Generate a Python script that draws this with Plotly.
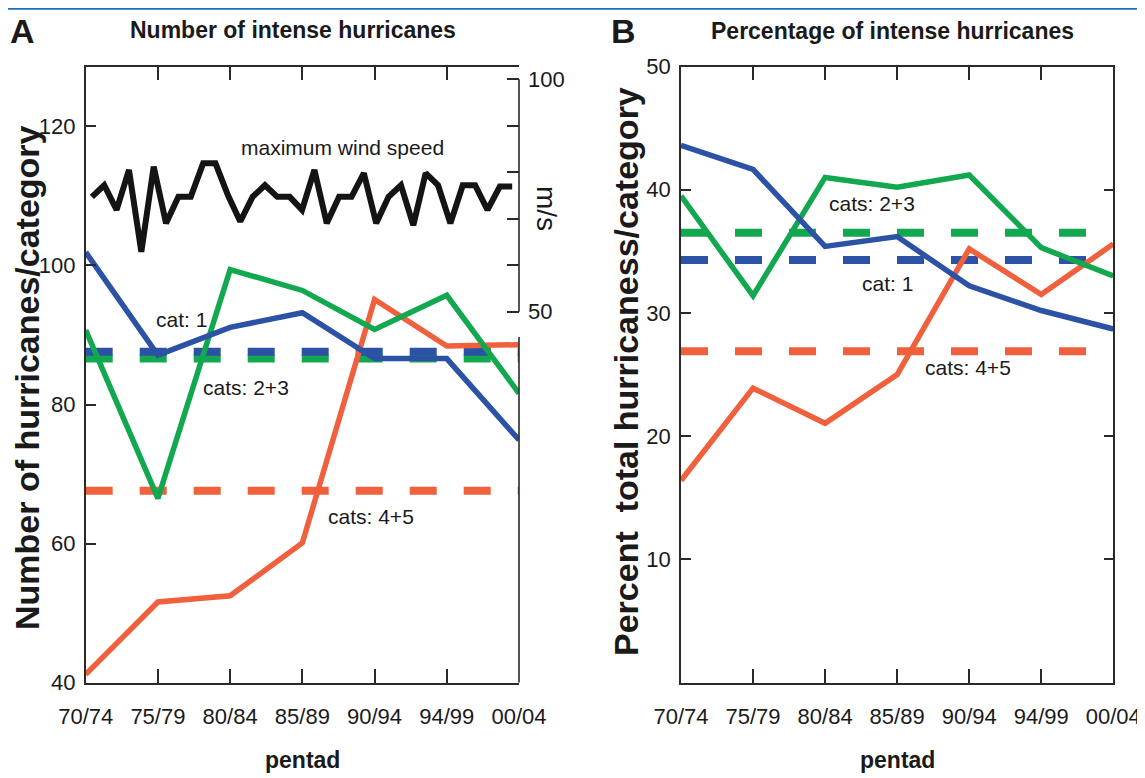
import plotly.graph_objects as go

# ---------------- data ----------------
pentads = ["70/74", "75/79", "80/84", "85/89", "90/94", "94/99", "00/04"]

# Panel A: number of hurricanes per category
num_cat1 = [101.9, 87.1, 91.1, 93.2, 86.6, 86.6, 74.9]
num_cat23 = [90.7, 66.5, 99.4, 96.4, 90.8, 95.7, 81.6]
num_cat45 = [41.2, 51.6, 52.5, 60.1, 95.1, 88.4, 88.6]
num_mean_cat1 = 87.6
num_mean_cat23 = 86.6
num_mean_cat45 = 67.6

# maximum wind speed (m/s), annual 1970-2004
years = [1970, 1971, 1972, 1973, 1974, 1975, 1976, 1977, 1978, 1979,
         1980, 1981, 1982, 1983, 1984, 1985, 1986, 1987, 1988, 1989,
         1990, 1991, 1992, 1993, 1994, 1995, 1996, 1997, 1998, 1999,
         2000, 2001, 2002, 2003, 2004]
max_wind = [74.7, 77.2, 71.9, 80.5, 62.9, 81.2, 69.0, 74.7, 74.7, 81.9,
            81.9, 75.1, 69.4, 74.7, 77.2, 74.7, 74.7, 71.9, 80.5, 69.0,
            74.7, 74.7, 79.8, 69.0, 74.7, 77.2, 68.6, 79.8, 77.2, 69.0,
            77.2, 77.2, 71.9, 76.9, 76.9]

# Panel B: percentage of total hurricanes per category
pct_cat1 = [43.6, 41.65, 35.4, 36.2, 32.2, 30.2, 28.7]
pct_cat23 = [39.5, 31.4, 41.0, 40.2, 41.2, 35.3, 33.0]
pct_cat45 = [16.4, 23.9, 21.05, 25.0, 35.2, 31.5, 35.6]
pct_mean_cat1 = 34.3
pct_mean_cat23 = 36.5
pct_mean_cat45 = 26.9

left_ticks = [40, 60, 80, 100, 120]
ms_ticks = [50, 60, 70, 80, 90, 100]
ms_ticktext = ["50", "", "", "", "", "100"]
pct_ticks = [10, 20, 30, 40, 50]

# ---------------- style ----------------
BLUE = "#2c52a6"
GREEN = "#12a84f"
RED = "#f0603c"
BLACK = "#141414"
AX = "#2a2a2a"
FONT = "Liberation Sans, Arial, Helvetica, sans-serif"
DASH = "27px,27px"
# the page body adds an 8px margin: the figure fills the rest of the window
OX = 8
OY = 8
W = 1145 - OX
H = 778 - OY


def px(x):
    return (x - OX) / W


def py(y):
    return 1 - (y - OY) / H


XA = [px(85.7), px(519)]
XB = [px(681), px(1113.3)]
YD = [py(682.7), py(66.5)]

fig = go.Figure()


def dashed(xaxis, yaxis, val, color):
    fig.add_trace(go.Scatter(x=[pentads[0], pentads[-1]], y=[val, val], mode="lines",
                             line=dict(color=color, width=8, dash=DASH),
                             xaxis=xaxis, yaxis=yaxis, hoverinfo="skip", showlegend=False))


def solid(xaxis, yaxis, vals, color):
    fig.add_trace(go.Scatter(x=pentads, y=vals, mode="lines",
                             line=dict(color=color, width=5.5),
                             xaxis=xaxis, yaxis=yaxis, showlegend=False))


# Panel A
dashed("x", "y", num_mean_cat45, RED)
dashed("x", "y", num_mean_cat23, GREEN)
dashed("x", "y", num_mean_cat1, BLUE)
solid("x", "y", num_cat45, RED)
solid("x", "y", num_cat23, GREEN)
solid("x", "y", num_cat1, BLUE)
fig.add_trace(go.Scatter(x=years, y=max_wind, mode="lines",
                         line=dict(color=BLACK, width=6),
                         xaxis="x2", yaxis="y2", showlegend=False))

# Panel B
dashed("x3", "y3", pct_mean_cat45, RED)
dashed("x3", "y3", pct_mean_cat23, GREEN)
dashed("x3", "y3", pct_mean_cat1, BLUE)
solid("x3", "y3", pct_cat45, RED)
solid("x3", "y3", pct_cat23, GREEN)
solid("x3", "y3", pct_cat1, BLUE)

tickfont = dict(family=FONT, size=22, color="#1a1a1a")
common_x = dict(type="category", categoryorder="array", categoryarray=pentads,
                range=[0, 6], showline=True, linecolor=AX, linewidth=1.6,
                mirror="ticks", ticks="inside", ticklen=14, tickwidth=1.5, tickcolor=AX,
                showgrid=False, zeroline=False, tickfont=tickfont, ticklabelstandoff=13,
                tickangle=0, automargin=False)

fig.update_layout(
    width=W, height=H,
    margin=dict(l=0, r=0, t=0, b=0, autoexpand=False),
    paper_bgcolor="white", plot_bgcolor="white",
    showlegend=False,
    xaxis=dict(domain=XA, anchor="y", **common_x),
    yaxis=dict(domain=YD, anchor="x", range=[40, 128.6], tickvals=left_ticks,
               showline=True, linecolor=AX, linewidth=1.6, mirror=False,
               ticks="inside", ticklen=10, tickwidth=1.5, tickcolor=AX,
               showgrid=False, zeroline=False, tickfont=tickfont, automargin=False,
               ticklabelstandoff=4),
    xaxis2=dict(domain=XA, anchor="y", overlaying="x", range=[1969.5, 2004.55],
                visible=False, automargin=False),
    yaxis2=dict(domain=YD, anchor="x", overlaying="y", side="right",
                range=[-29.78, 102.73], tickvals=ms_ticks, ticktext=ms_ticktext,
                showline=False, ticks="inside", ticklen=12, tickwidth=1.5, tickcolor=AX,
                showgrid=False, zeroline=False, tickfont=tickfont, ticklabelstandoff=8,
                automargin=False),
    xaxis3=dict(domain=XB, anchor="y3", **common_x),
    yaxis3=dict(domain=YD, anchor="x3", range=[0, 50], tickvals=pct_ticks,
                showline=True, linecolor=AX, linewidth=1.6, mirror="ticks",
                ticks="inside", ticklen=10, tickwidth=1.5, tickcolor=AX,
                showgrid=False, zeroline=False, tickfont=tickfont, automargin=False,
                ticklabelstandoff=4),
)

shapes = [
    # journal rule at the top
    dict(type="line", xref="paper", yref="paper", x0=0, x1=1, y0=0.999, y1=0.999,
         line=dict(color="#1f6fc5", width=2)),
    # right frame of panel A (lower part)
    dict(type="line", xref="paper", yref="y", x0=XA[1], x1=XA[1], y0=40, y1=89.7,
         line=dict(color=AX, width=1.6)),
    # m/s axis line
    dict(type="line", xref="paper", yref="y2", x0=XA[1], x1=XA[1], y0=50, y1=100,
         line=dict(color=AX, width=1.6)),
]
fig.update_layout(shapes=shapes)


def ann(text, x, y, size, bold=False, angle=0):
    t = "<b>" + text + "</b>" if bold else text
    fig.add_annotation(text=t, x=px(x), y=py(y), xref="paper", yref="paper",
                       showarrow=False, xanchor="center", yanchor="middle", textangle=angle,
                       font=dict(family=FONT, size=size, color="#1a1a1a"))


ann("A", 22, 31, 34, bold=True)
ann("B", 623, 31, 34, bold=True)
ann("Number of intense hurricanes", 293, 30, 23, bold=True)
ann("Percentage of intense hurricanes", 892, 31, 23, bold=True)
ann("Number of hurricanes/category", 27, 378, 34, bold=True, angle=-90)
ann("Percent\u00a0 total hurricaness/category", 626, 372, 34, bold=True, angle=-90)
ann("m/s", 546, 208, 28, angle=90)
ann("pentad", 302, 760, 23, bold=True)
ann("pentad", 897, 760, 23, bold=True)
ann("maximum wind speed", 342, 147, 21)
ann("cat: 1", 181, 319, 21)
ann("cats: 2+3", 246, 388, 21)
ann("cats: 4+5", 371, 516, 21)
ann("cats: 2+3", 872, 203, 21)
ann("cat: 1", 887, 283, 21)
ann("cats: 4+5", 968, 367, 21)

fig.write_html("out.html")
